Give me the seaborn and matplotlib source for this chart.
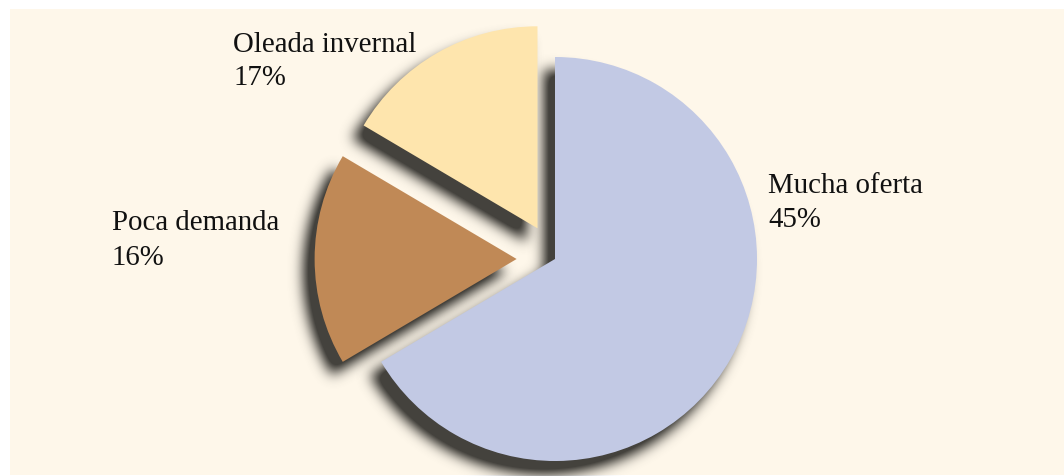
import numpy as np
import seaborn as sns
import matplotlib
matplotlib.use("Agg")
import matplotlib.pyplot as plt

categories = ["Oleada invernal", "Poca demanda", "Mucha oferta"]
shares = [16.5, 17.0, 66.5]
pct_labels = ["17%", "16%", "45%"]
explode = [0.175, 0.19, 0.0]  # fraction of radius

colors = sns.color_palette(["#FEE5AD", "#C08956", "#C2C9E4"])
bg = "#FEF7EA"
shadow_rgb = (0.27, 0.26, 0.24)


def blur(a, sigma):
    r = int(3 * sigma)
    x = np.arange(-r, r + 1)
    k = np.exp(-x ** 2 / (2 * sigma ** 2))
    k /= k.sum()
    a = np.apply_along_axis(lambda v: np.convolve(v, k, mode="same"), 0, a)
    a = np.apply_along_axis(lambda v: np.convolve(v, k, mode="same"), 1, a)
    return a


def drop_shadow(img, dpi, dx=-11, dy=13, sigma=6.5, pad=45):
    a = np.pad(img[..., 3], pad)
    a = blur(a, sigma)
    a = np.roll(a, (dy, dx), axis=(0, 1))
    out = np.zeros(a.shape + (4,))
    out[..., :3] = shadow_rgb
    out[..., 3] = np.clip(a * 1.3, 0, 1)
    return out, -pad, -pad


sns.set_theme(style="white")
plt.rcParams["font.family"] = ["Liberation Serif", "DejaVu Serif"]

W, H = 1064, 477
fig = plt.figure(figsize=(W / 100, H / 100), dpi=100, facecolor="white")
ax = fig.add_axes([10 / W, 1 / H, 1054 / W, 466 / H])

center = (555, H - 260)
radius = 202
expl = [e * radius for e in explode]

# shadow layer
sh, _ = ax.pie(shares, explode=expl, startangle=90, radius=radius,
               center=center, colors=["black"] * 3, frame=True,
               wedgeprops=dict(linewidth=0))
for w in sh:
    w.set_agg_filter(drop_shadow)

wedges, _ = ax.pie(shares, explode=expl, startangle=90, radius=radius,
                   center=center, colors=colors, frame=True,
                   wedgeprops=dict(linewidth=0))

ax.set_xlim(10, W)
ax.set_ylim(1, 467)
ax.set_aspect("auto")
ax.set_facecolor(bg)
ax.set_xticks([])
ax.set_yticks([])
for s in ax.spines.values():
    s.set_visible(False)

# label positions (left x, name baseline, percent baseline) in pixels
label_pos = [(233, 52, 85), (112, 230, 265), (768, 193, 227)]
for name, pct, (x, y1, y2) in zip(categories, pct_labels, label_pos):
    ax.text(x, H - y1, name, fontsize=20.8, ha="left", va="baseline", color="#111111")
    ax.text(x, H - y2, pct, fontsize=20.8, ha="left", va="baseline", color="#111111")

fig.savefig("out.png", dpi=100, facecolor="white")
